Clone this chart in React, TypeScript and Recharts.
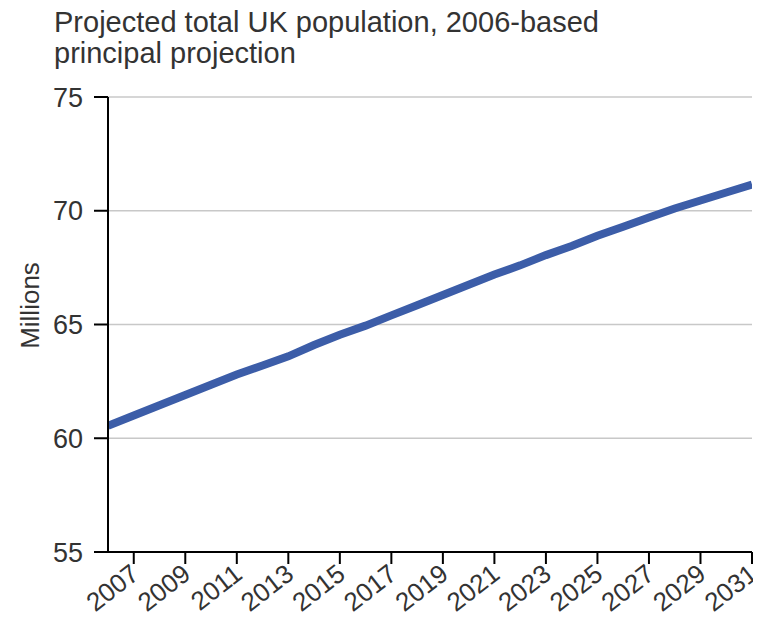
import React from 'react';
import { LineChart, Line, XAxis, YAxis, CartesianGrid } from 'recharts';

const years: number[] = [
  2006, 2007, 2008, 2009, 2010, 2011, 2012, 2013, 2014, 2015, 2016, 2017, 2018,
  2019, 2020, 2021, 2022, 2023, 2024, 2025, 2026, 2027, 2028, 2029, 2030, 2031,
];
const population: number[] = [
  60.55, 61.0, 61.45, 61.9, 62.35, 62.8, 63.2, 63.6, 64.1, 64.55, 64.95, 65.4, 65.85,
  66.3, 66.75, 67.2, 67.6, 68.05, 68.45, 68.9, 69.3, 69.7, 70.1, 70.45, 70.8, 71.15,
];
const xTicks: number[] = [2007, 2009, 2011, 2013, 2015, 2017, 2019, 2021, 2023, 2025, 2027, 2029, 2031];
const yTicks: number[] = [55, 60, 65, 70, 75];
const titleLines: string[] = ['Projected total UK population, 2006-based', 'principal projection'];
const yLabel = 'Millions';

const data = years.map((y, i) => ({ year: y, value: population[i] }));

const FONT = '"Liberation Sans", Arial, Helvetica, sans-serif';
const TEXT = '#333333';

const XTick = (props: any) => {
  const { x, y, payload } = props;
  const ax = x + 7;
  const ay = y + 11;
  return (
    <text
      x={ax}
      y={ay}
      textAnchor="end"
      fontSize={26}
      fontFamily={FONT}
      fill={TEXT}
      transform={`rotate(-38, ${ax}, ${ay})`}
    >
      {payload.value}
    </text>
  );
};

const YLabel = (props: any) => {
  const vb = props.viewBox || { x: 0, y: 0, width: 0, height: 0 };
  const cx = vb.x + 22;
  const cy = vb.y + vb.height / 2 - 19;
  return (
    <text
      x={cx}
      y={cy}
      textAnchor="middle"
      dominantBaseline="central"
      fontSize={26}
      fontFamily={FONT}
      fill={TEXT}
      transform={`rotate(-90, ${cx}, ${cy})`}
    >
      {yLabel}
    </text>
  );
};

export default function App() {
  return (
    <div style={{ position: 'relative', width: 753, height: 610, fontFamily: FONT }}>
      <div
        style={{
          position: 'absolute',
          left: 46,
          top: -1,
          fontSize: 29,
          lineHeight: '31px',
          color: TEXT,
          fontFamily: FONT,
          whiteSpace: 'nowrap',
        }}
      >
        {titleLines.map((t) => (
          <div key={t}>{t}</div>
        ))}
      </div>
      <LineChart width={753} height={610} data={data} margin={{ top: 89, right: 9, left: 0, bottom: 0 }}>
        <CartesianGrid horizontal vertical={false} stroke="#c8c8c8" strokeWidth={1.5} />
        <XAxis
          dataKey="year"
          type="number"
          domain={[2006, 2031]}
          ticks={xTicks}
          height={66}
          tickSize={12}
          tickMargin={2}
          stroke="#000"
          strokeWidth={2}
          tickLine={{ stroke: '#000', strokeWidth: 2 }}
          tick={<XTick />}
          interval={0}
          allowDataOverflow
        />
        <YAxis
          type="number"
          domain={[55, 75]}
          ticks={yTicks}
          width={100}
          tickSize={14}
          tickMargin={11}
          stroke="#000"
          strokeWidth={2}
          tickLine={{ stroke: '#000', strokeWidth: 2 }}
          tick={{ fontSize: 27, fill: TEXT, fontFamily: FONT }}
          interval={0}
          label={<YLabel />}
        />
        <Line
          type="linear"
          dataKey="value"
          stroke="#3C5DA8"
          strokeWidth={8}
          dot={false}
          isAnimationActive={false}
        />
      </LineChart>
    </div>
  );
}
